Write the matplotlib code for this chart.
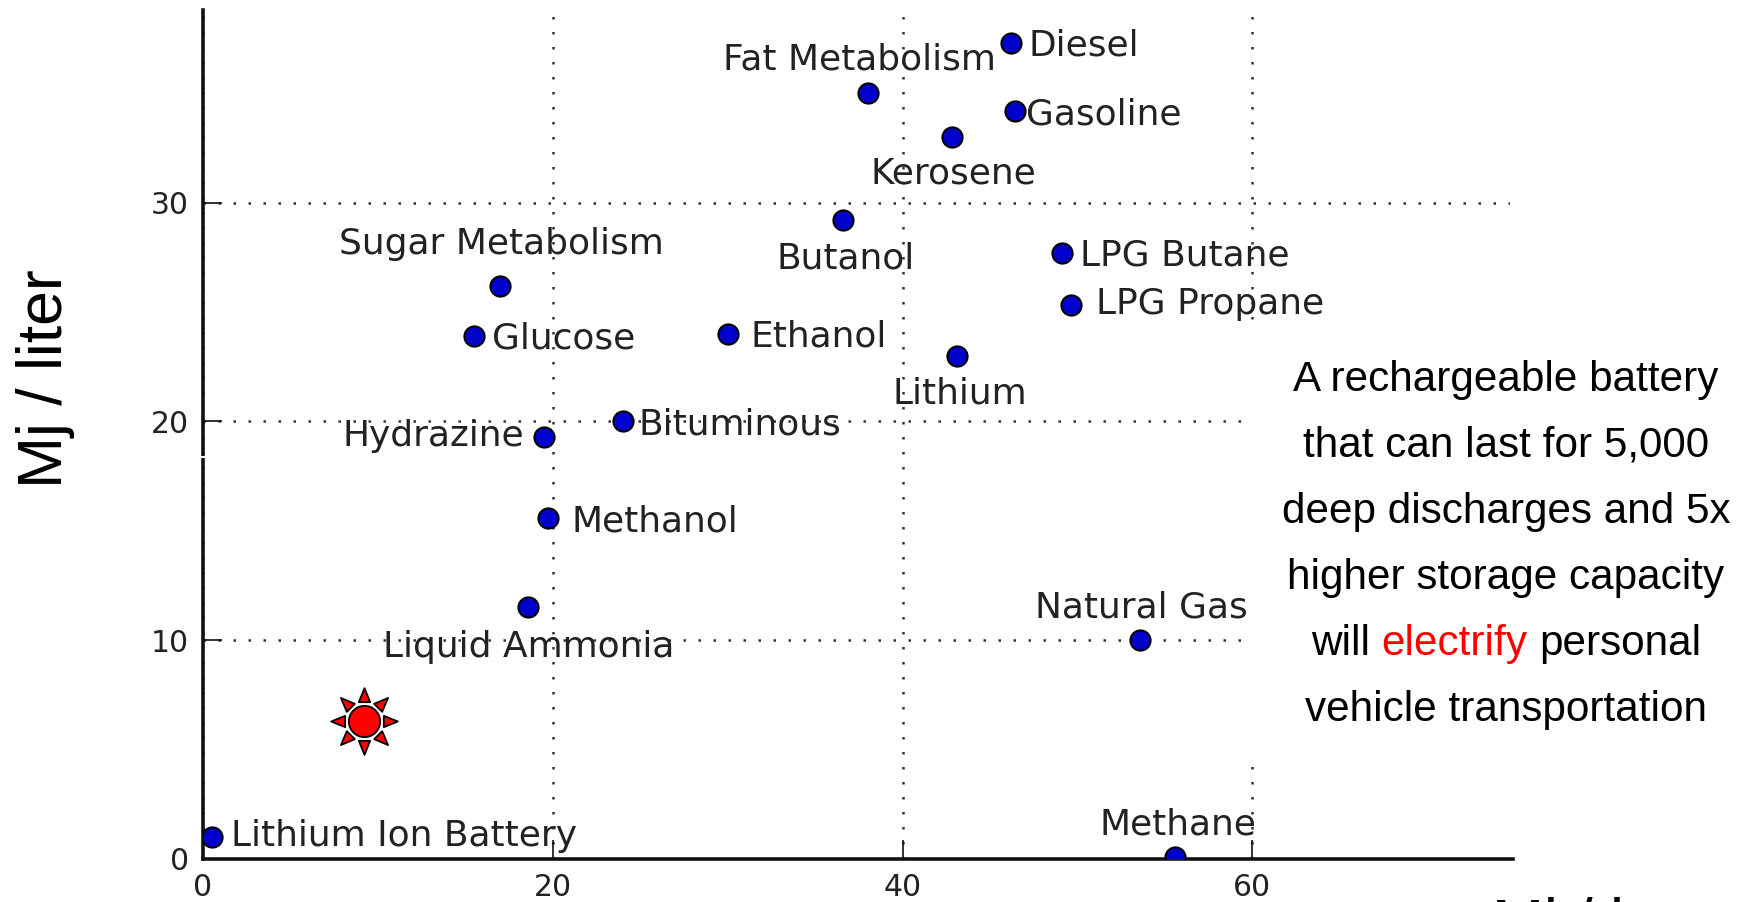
import matplotlib
matplotlib.use("Agg")
import matplotlib.pyplot as plt
import numpy as np
from matplotlib.path import Path
from matplotlib.patches import Rectangle

W, H = 1756, 902
names = ["Diesel", "Fat Metabolism", "Gasoline", "Kerosene", "Butanol", "LPG Butane",
         "LPG Propane", "Sugar Metabolism", "Glucose", "Ethanol", "Lithium", "Bituminous",
         "Hydrazine", "Methanol", "Liquid Ammonia", "Natural Gas", "Methane", "Lithium Ion Battery"]
mj_per_kg = [46.2, 38.0, 46.4, 42.8, 36.6, 49.1, 49.6, 17.0, 15.5, 30.0, 43.1, 24.0,
             19.5, 19.7, 18.6, 53.6, 55.6, 0.5]
mj_per_liter = [37.3, 35.0, 34.2, 33.0, 29.2, 27.7, 25.3, 26.2, 23.9, 24.0, 23.0, 20.0,
                19.3, 15.6, 11.5, 10.0, 0.1, 1.0]
target_x = [9.2]
target_y = [6.3]
x_ticks = [0, 20, 40, 60]
y_ticks = [0, 10, 20, 30]
note_lines = ["A rechargeable battery", "that can last for 5,000", "deep discharges and 5x",
              "higher storage capacity", None, "vehicle transportation"]
highlight = ["will ", "electrify", " personal"]
highlight_colors = ["black", "#ff0000", "black"]

label_dx = [65, -7, 80, 2, 2, 110, 125, 1, 80, 81, 3, 105, -99, 96, 0, 1, 2, 172]
label_dy = [-1, 31, -2, -32, -33, -1, 2, 38, -1, -1, -33, -2, 2, -2, -34, 30, 30, 2]
PT = 1.12 * 0.72


def sun_marker():
    verts, codes = [], []
    c = Path.unit_circle()
    verts += [tuple(v) for v in c.vertices * 0.47]
    codes += list(c.codes)
    for i in range(8):
        a = np.pi / 4 * i
        d = np.array([np.cos(a), np.sin(a)])
        n = np.array([-d[1], d[0]])
        r0, r1, w = 0.58, 1.0, 0.17
        pts = [d * r0 + n * w, d * r1, d * r0 - n * w, d * r0 + n * w]
        verts += [tuple(p) for p in pts]
        codes += [Path.MOVETO, Path.LINETO, Path.LINETO, Path.CLOSEPOLY]
    return Path(verts, codes)


def px_rect(x0, y0, x1, y1, z):
    """White cover given in picture pixels from the top-left corner."""
    return Rectangle((x0 / W, 1 - y1 / H), (x1 - x0) / W, (y1 - y0) / H, transform=fig.transFigure,
                     facecolor="white", edgecolor="none", zorder=z, clip_on=False)


fig = plt.figure(figsize=(W / 100, H / 100), dpi=100, facecolor="white")
ax = fig.add_axes([203 / W, (H - 859) / H, (1513 - 203) / W, (859 - 10) / H])
ax.set_xlim(0, 74.9)
ax.set_ylim(0, 38.8)
for s in ("top", "right"):
    ax.spines[s].set_visible(False)
for s in ("left", "bottom"):
    ax.spines[s].set_linewidth(2.6)
    ax.spines[s].set_color("#111111")
ax.set_xticks(x_ticks)
ax.set_yticks(y_ticks)
ax.tick_params(axis="both", direction="in", length=14, width=1.2, labelsize=21.5,
               labelcolor="#222222", color="#111111", pad=10)
ax.grid(True, linestyle=(0, (1, 5)), linewidth=1.8, color="#333333")
ax.set_axisbelow(True)

ax.add_patch(px_rect(1245, 325, 1756, 758, 1.5))
ax.add_patch(px_rect(1510, 190, 1530, 215, 1.5))
ax.add_patch(px_rect(198, 456, 208, 458, 5))

ax.scatter(mj_per_kg, mj_per_liter, s=210, c="#0000cc", edgecolors="black", linewidths=1.5, zorder=3)
ax.scatter(target_x, target_y, s=2300, marker=sun_marker(), c="#ff0000", edgecolors="black",
           linewidths=1.3, zorder=3)
for n, x, y, dx, dy in zip(names, mj_per_kg, mj_per_liter, label_dx, label_dy):
    ax.annotate(n, (x, y), xytext=(dx * PT, (dy - 1) * PT), textcoords="offset points", ha="center",
                va="center", fontsize=25.9, color="#222222", family="DejaVu Sans", zorder=4,
                annotation_clip=False)

sans = "Liberation Sans"
NOTE_SIZE = 30.4
note_px_x = 1506
line_y = [339, 398, 457, 516, 575, 634]
for t, ly in zip(note_lines, line_y):
    if t is not None:
        fig.text(note_px_x / W, 1 - ly * 1.12 / H, t, ha="center", va="center", fontsize=NOTE_SIZE,
                 family=sans, color="black")

fig.canvas.draw()
r = fig.canvas.get_renderer()


def advance(s):
    a = fig.text(0, 0, "x" + s + "x", fontsize=NOTE_SIZE, family=sans)
    b = fig.text(0, 0, "xx", fontsize=NOTE_SIZE, family=sans)
    w = a.get_window_extent(r).width - b.get_window_extent(r).width
    a.remove()
    b.remove()
    return w


total = advance("".join(highlight))
x = note_px_x - total / 2
for s, c in zip(highlight, highlight_colors):
    lead = advance(s[:len(s) - len(s.lstrip())]) if s != s.lstrip() else 0
    fig.text((x + lead) / W, 1 - line_y[4] * 1.12 / H, s.strip(), ha="left", va="center",
             fontsize=NOTE_SIZE, family=sans, color=c)
    x += advance(s)

fig.text(41 * 1.12 / W, 1 - 338 * 1.12 / H, "Mj / liter", rotation=90, ha="center", va="center",
         fontsize=45, family=sans, color="black")
fig.text(1492 / W, (H - 943) / H, "Mj / kg", ha="left", va="baseline", fontsize=45, family=sans, color="black")

fig.savefig("out.png", dpi=100)
